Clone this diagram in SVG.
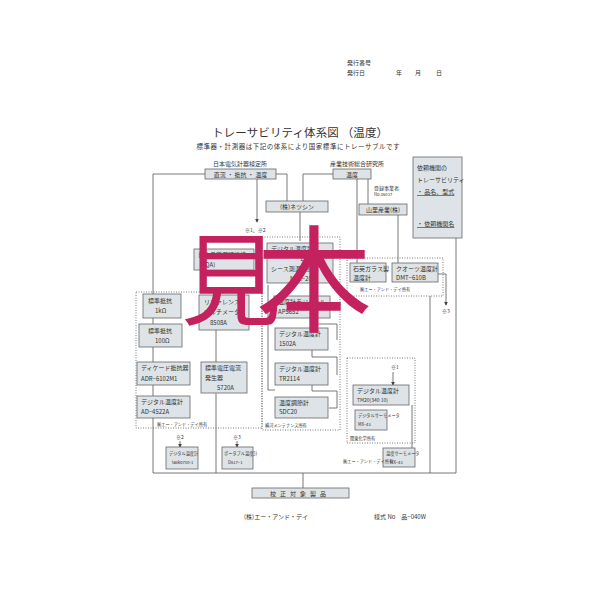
<svg xmlns="http://www.w3.org/2000/svg" width="598" height="598" viewBox="0 0 598 598">
<defs>
<style>
text{font-family:"Noto Sans CJK JP","Liberation Sans",sans-serif;fill:#333;}
.t{font-size:6px;}
.s{font-size:5px;}
.xs{font-size:4.2px;}
.box{fill:#dde3e6;stroke:#666;stroke-width:0.8;}
.ln{fill:none;stroke:#555;stroke-width:0.8;}
.dot{fill:none;stroke:#555;stroke-width:0.8;stroke-dasharray:1,1.5;}
.wm{font-family:"Noto Sans CJK JP",serif;fill:#c4215f;}
</style>
<marker id="ar" viewBox="0 0 6 6" refX="5" refY="3" markerWidth="5" markerHeight="5" orient="auto"><path d="M0,0 L6,3 L0,6 z" fill="#444"/></marker>
</defs>
<rect width="598" height="598" fill="#fff"/>
<g id="header">
<text class="t" x="347" y="65">発行番号</text>
<text class="t" x="347" y="75">発行日</text>
<text class="t" x="396" y="75">年</text>
<text class="t" x="415" y="75">月</text>
<text class="t" x="436" y="75">日</text>
<text x="300" y="137" font-size="11.5" text-anchor="middle" textLength="176">トレーサビリティ体系図 （温度）</text>
<text x="298" y="149" font-size="6.5" text-anchor="middle" textLength="203">標準器・計測器は下記の体系により国家標準にトレーサブルです</text>
<text class="t" x="240" y="166" text-anchor="middle">日本電気計器検定所</text>
<text class="t" x="357" y="166" text-anchor="middle">産業技術総合研究所</text>
<text class="s" x="374" y="190">登録事業者</text>
<text class="xs" x="374" y="196">No.06037</text>
<text class="s" x="245" y="232">※1、※2</text>
<text class="s" x="442" y="313">※3</text>
<text class="s" x="391" y="369">※1</text>
<text class="s" x="176" y="439">※2</text>
<text class="s" x="233" y="439">※3</text>
</g>
<g id="connectors">
<path class="ln" d="M205,174 H153 V473"/>
<path class="ln" d="M276,174 H287 V201"/>
<path class="ln" d="M333,174 H303 V201"/>
<path class="ln" d="M300,212 V241"/>
<path class="ln" d="M257,179 V222" marker-end="url(#ar)"/>
<path class="ln" d="M357,179 V263"/>
<path class="ln" d="M368,179 V204"/>
<path class="ln" d="M398,215 V263"/>
<path class="ln" d="M456,238 V473 H153"/>
<path class="ln" d="M437,274 H446 V305" marker-end="url(#ar)"/>
<path class="ln" d="M216,330 V473"/>
<path class="ln" d="M303,473 V488"/>
<path class="ln" d="M180,441 V447" marker-end="url(#ar)"/>
<path class="ln" d="M237,441 V447" marker-end="url(#ar)"/>
<path class="ln" d="M393,372 V385" marker-end="url(#ar)"/>
<path class="ln" d="M268,285 V390 H275"/>
<path class="ln" d="M312,318 V324 H337 V340 M312,350 V357 H337 V375 M312,385 V391 H337 V408 H329"/>
<path class="ln" d="M412,405 V448"/>
<path class="ln" d="M430,296 V473"/>
<path class="dot" d="M262,237 H340 V430 H262 Z"/>
<path class="dot" d="M136,292 H262 V428 H136 Z"/>
<path class="dot" d="M347,258 H443 V296 H347 Z"/>
<path class="dot" d="M347,358 H415 V443 H347 Z"/>
</g>
<g id="jemic"><rect class="box" x="205" y="169" width="71" height="10"/><text class="t" x="240.5" y="176.5" text-anchor="middle">直流 ・ 抵抗 ・ 温度</text></g>
<g id="aist"><rect class="box" x="333" y="169" width="38" height="10"/><text class="t" x="352" y="176.5" text-anchor="middle">温度</text></g>
<g id="netsushin"><rect class="box" x="266" y="201" width="62" height="11"/><text class="t" x="297" y="208.5" text-anchor="middle">(株)ネツシン</text></g>
<g id="yamari"><rect class="box" x="359" y="204" width="48" height="11"/><text class="t" x="383" y="211.5" text-anchor="middle">山里産業(株)</text></g>
<g id="client"><rect class="box" x="413" y="157" width="49" height="81"/>
<text class="t" x="417" y="170">依頼機関の</text>
<text class="t" x="417" y="182">トレーサビリティ</text>
<text class="t" x="417" y="194" text-decoration="underline">・ 品名、型式</text>
<text class="t" x="417" y="226" text-decoration="underline">・ 依頼機関名</text></g>
<g id="jqa"><rect class="box" x="194" y="249" width="60" height="21"/><text class="t" x="198" y="257">日本品質保証機構</text><text class="t" x="200" y="267">(JQA)</text></g>
<g id="d1502a"><rect class="box" x="267" y="243" width="66" height="40"/>
<text class="t" x="271" y="251">デジタル温度計</text><text class="t" x="300" y="261">1502A</text>
<text class="t" x="271" y="271">シース測温抵抗体</text><text class="t" x="290" y="281">NSR−200</text></g>
<g id="quartzglass"><rect class="box" x="350" y="263" width="36" height="19"/><text class="t" x="353" y="271">石英ガラス製</text><text class="t" x="353" y="280">温度計</text></g>
<g id="quartz"><rect class="box" x="392" y="263" width="46" height="19"/><text class="t" x="396" y="271">クオーツ温度計</text><text class="t" x="396" y="280">DMT−610B</text></g>
<text class="xs" x="360" y="291">㈱エー・アンド・デイ所有</text>
<g id="module"><rect class="box" x="274" y="296" width="56" height="22"/><text class="t" x="278" y="304">温度計モジュール</text><text class="t" x="278" y="314">AP5652</text></g>
<g id="c1502a"><rect class="box" x="275" y="328" width="53" height="22"/><text class="t" x="279" y="336">デジタル温度計</text><text class="t" x="279" y="346">1502A</text></g>
<g id="tr2114"><rect class="box" x="275" y="363" width="53" height="22"/><text class="t" x="279" y="371">デジタル温度計</text><text class="t" x="279" y="381">TR2114</text></g>
<g id="sdc20"><rect class="box" x="275" y="397" width="53" height="21"/><text class="t" x="279" y="405">温度調節計</text><text class="t" x="279" y="414">SDC20</text></g>
<text class="xs" x="265" y="427">横河メンテナンス所有</text>
<g id="r1k"><rect class="box" x="143" y="294" width="38" height="24"/><text class="t" x="148" y="303">標準抵抗</text><text class="t" x="155" y="313">1kΩ</text></g>
<g id="m8508a"><rect class="box" x="199" y="295" width="50" height="35"/><text class="t" x="204" y="304">リファレンス</text><text class="t" x="204" y="314">マルチメータ</text><text class="t" x="210" y="325">8508A</text></g>
<g id="r100"><rect class="box" x="139" y="324" width="43" height="23"/><text class="t" x="148" y="333">標準抵抗</text><text class="t" x="155" y="343">100Ω</text></g>
<g id="adr"><rect class="box" x="137" y="362" width="53" height="23"/><text class="t" x="141" y="370">ディケード抵抗器</text><text class="t" x="141" y="381">ADR−6102M1</text></g>
<g id="f5720a"><rect class="box" x="201" y="362" width="46" height="31"/><text class="t" x="205" y="370">標準電圧電流</text><text class="t" x="205" y="380">発生器</text><text class="t" x="217" y="390">5720A</text></g>
<g id="ad4522a"><rect class="box" x="137" y="396" width="53" height="22"/><text class="t" x="141" y="404">デジタル温度計</text><text class="t" x="141" y="414">AD−4522A</text></g>
<text class="xs" x="157" y="426">㈱エー・アンド・デイ所有</text>
<g id="tm20"><rect class="box" x="353" y="385" width="56" height="20"/><text class="t" x="357" y="393">デジタル温度計</text><text class="s" x="357" y="402">TM20(340 10)</text></g>
<g id="mx43a"><rect class="box" x="355" y="410" width="32" height="20"/><text class="xs" x="358" y="417">デジタルサーモメータ</text><text class="xs" x="358" y="426">MX−43</text></g>
<text class="xs" x="350" y="440">関東化学所有</text>
<g id="mx43b"><rect class="box" x="383" y="448" width="32" height="19"/><text class="xs" x="386" y="455">温度サーモメータ</text><text class="xs" x="390" y="464">MX−43</text></g>
<text class="xs" x="343" y="463">㈱エー・アンド・デイ所有</text>
<g id="tasko"><rect class="box" x="166" y="447" width="32" height="22"/><text class="xs" x="169" y="455">デジタル温度計</text><text class="xs" x="172" y="464">tasko700-1</text></g>
<g id="d617"><rect class="box" x="222" y="447" width="31" height="22"/><text class="xs" x="224" y="455">ポータブル温度計</text><text class="xs" x="228" y="464">D617−1</text></g>
<g id="product"><rect class="box" x="252" y="488" width="97" height="10"/><text class="t" x="300" y="495.5" text-anchor="middle" letter-spacing="4">校正対象製品</text></g>
<g id="footer">
<text class="t" x="276" y="519" text-anchor="middle">(株)エー・アンド・デイ</text>
<text class="t" x="400" y="519" text-anchor="middle">様式 No　品−040W</text>
</g>
<g id="watermark">
<text class="wm" font-size="100" x="231" y="317" text-anchor="middle">見</text>
<text class="wm" font-size="116" x="314" y="323" text-anchor="middle">本</text>
</g>
</svg>
